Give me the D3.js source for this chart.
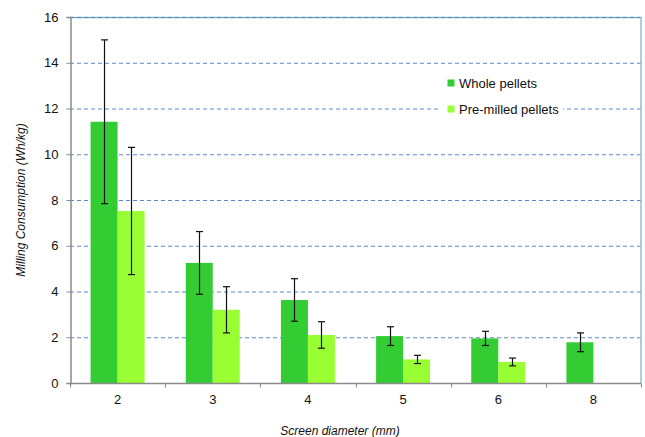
<!DOCTYPE html>
<html>
<head>
<meta charset="utf-8">
<script src="https://cdn.jsdelivr.net/npm/d3@7"></script>
<style>
  html, body { margin: 0; padding: 0; background: #fff; }
  svg { display: block; font-family: "Liberation Sans", Arial, sans-serif; }
</style>
</head>
<body>
<svg id="chart" width="645" height="437"></svg>
<script>
// Screen diameters (mm)
const categories = ["2", "3", "4", "5", "6", "8"];
const seriesNames = ["Whole pellets", "Pre-milled pellets"];
const seriesColors = ["#33cc33", "#99ff33"];

// Mean milling consumption (Wh/kg) and its error (±)
const wholeMean = [11.42, 5.25, 3.63, 2.05, 1.95, 1.78];
const wholeErr  = [3.58, 1.37, 0.93, 0.41, 0.31, 0.41];
const premilledMean = [7.52, 3.20, 2.10, 1.03, 0.92, null];
const premilledErr  = [2.78, 1.01, 0.58, 0.18, 0.17, null];

const yTicks = [0, 2, 4, 6, 8, 10, 12, 14, 16];

const svg = d3.select("#chart");
const m = { left: 70, right: 641, top: 17, bottom: 383 };

const x = d3.scaleBand().domain(categories).range([m.left, m.right]).paddingInner(0).paddingOuter(0);
const x1 = d3.scaleBand().domain(seriesNames).range([0, x.bandwidth()]).paddingInner(0).paddingOuter(0.763);
const y = d3.scaleLinear().domain([0, 16]).range([m.bottom, m.top]);

// Horizontal grid lines
svg.append("g").selectAll("line")
  .data(yTicks.filter(t => t > 0 && t < 16))
  .join("line")
  .attr("x1", m.left).attr("x2", m.right)
  .attr("y1", d => y(d) + 0.5).attr("y2", d => y(d) + 0.5)
  .attr("stroke", "#5b8ac6").attr("stroke-width", 1)
  .attr("stroke-dasharray", "4,3");

// Plot area frame: top and right edges
svg.append("line")
  .attr("x1", m.left).attr("x2", m.right)
  .attr("y1", y(16) + 0.5).attr("y2", y(16) + 0.5)
  .attr("stroke", "#7fb3c9").attr("stroke-width", 1.5);
svg.append("line")
  .attr("x1", m.left).attr("x2", m.right)
  .attr("y1", y(16) + 0.5).attr("y2", y(16) + 0.5)
  .attr("stroke", "#4f81bd").attr("stroke-width", 1)
  .attr("stroke-dasharray", "4,3");
svg.append("line")
  .attr("x1", m.right).attr("x2", m.right)
  .attr("y1", m.top).attr("y2", m.bottom)
  .attr("stroke", "#8ec0cf").attr("stroke-width", 1.5);

// Bars
const series = [
  { name: seriesNames[0], color: seriesColors[0], mean: wholeMean, err: wholeErr },
  { name: seriesNames[1], color: seriesColors[1], mean: premilledMean, err: premilledErr }
];

series.forEach(s => {
  const pts = categories.map((c, i) => ({ c, v: s.mean[i], e: s.err[i] })).filter(d => d.v != null);
  const g = svg.append("g");
  g.selectAll("rect").data(pts).join("rect")
    .attr("x", d => x(d.c) + x1(s.name))
    .attr("width", x1.bandwidth())
    .attr("y", d => y(d.v))
    .attr("height", d => y(0) - y(d.v))
    .attr("fill", s.color);
  // Error bars
  const eb = g.selectAll("g.err").data(pts).join("g").attr("class", "err")
    .attr("stroke", "#111").attr("stroke-width", 1.2);
  const cx = d => Math.round(x(d.c) + x1(s.name) + x1.bandwidth() / 2) + 0.5;
  eb.append("line").attr("x1", cx).attr("x2", cx)
    .attr("y1", d => y(d.v + d.e)).attr("y2", d => y(d.v - d.e));
  eb.append("line").attr("x1", d => cx(d) - 3.5).attr("x2", d => cx(d) + 3.5)
    .attr("y1", d => y(d.v + d.e)).attr("y2", d => y(d.v + d.e));
  eb.append("line").attr("x1", d => cx(d) - 3.5).attr("x2", d => cx(d) + 3.5)
    .attr("y1", d => y(d.v - d.e)).attr("y2", d => y(d.v - d.e));
});

// Y axis
const yAxis = d3.axisLeft(y).tickValues(yTicks).tickSize(4).tickPadding(8);
const gy = svg.append("g").attr("transform", `translate(${m.left + 0.5},0)`).call(yAxis);
gy.select(".domain").attr("stroke", "#8a8a8a").attr("stroke-width", 1.5);
gy.selectAll(".tick line").attr("stroke", "#8a8a8a");
gy.selectAll(".tick text").attr("font-size", 13).attr("fill", "#111")
  .attr("font-family", "Liberation Sans, Arial, sans-serif");

// X axis: ticks at category boundaries, labels at centres
const gx = svg.append("g").attr("transform", `translate(0,${m.bottom + 0.5})`);
gx.append("line").attr("x1", m.left).attr("x2", m.right)
  .attr("stroke", "#8a8a8a").attr("stroke-width", 1.5);
const bounds = categories.map(c => x(c)).concat([m.right]);
gx.selectAll("line.tk").data(bounds).join("line").attr("class", "tk")
  .attr("x1", d => Math.round(d) + 0.5).attr("x2", d => Math.round(d) + 0.5)
  .attr("y1", 0).attr("y2", 4).attr("stroke", "#8a8a8a");
gx.selectAll("text").data(categories).join("text")
  .attr("x", d => x(d) + x.bandwidth() / 2)
  .attr("y", 20)
  .attr("text-anchor", "middle")
  .attr("font-size", 13).attr("fill", "#111")
  .text(d => d);

// Axis titles
svg.append("text")
  .attr("x", 340).attr("y", 435)
  .attr("text-anchor", "middle")
  .attr("font-size", 12).attr("font-style", "italic").attr("fill", "#111")
  .text("Screen diameter (mm)");
svg.append("text")
  .attr("transform", "translate(25,200) rotate(-90)")
  .attr("text-anchor", "middle")
  .attr("font-size", 12).attr("font-style", "italic").attr("fill", "#111")
  .text("Milling Consumption (Wh/kg)");

// Legend
const lg = svg.append("g").attr("transform", "translate(441,71)");
lg.append("rect").attr("x", 0).attr("y", 0).attr("width", 122).attr("height", 50).attr("fill", "#fff");
seriesNames.forEach((n, i) => {
  lg.append("rect").attr("x", 6.5).attr("y", 8.5 + i * 26).attr("width", 7).attr("height", 7)
    .attr("fill", seriesColors[i]);
  lg.append("text").attr("x", 18).attr("y", 17 + i * 26)
    .attr("font-size", 13).attr("fill", "#111").text(n);
});
</script>
</body>
</html>
